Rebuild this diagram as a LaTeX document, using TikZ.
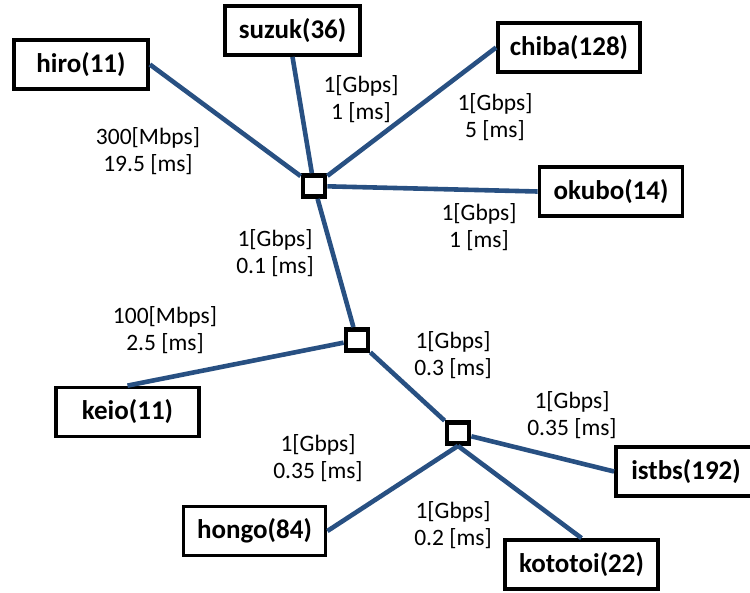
\documentclass[tikz,border=0pt]{standalone}
\usepackage{fontspec}
\setmainfont{Carlito}
\definecolor{linkblue}{RGB}{40,80,130}
\tikzset{
  host/.style={draw=black, line width=3.8pt, fill=white, inner sep=0pt,
    minimum height=49pt, font=\fontsize{27}{30}\selectfont\bfseries},
  switchbox/.style={draw=black, line width=4.8pt, fill=white, inner sep=0pt,
    minimum width=22pt, minimum height=21pt},
  link/.style={draw=linkblue, line width=4.6pt},
  linklabel/.style={align=center, inner sep=0pt,
    font=\fontsize{23.5}{27}\selectfont}
}
\begin{document}
\begin{tikzpicture}[x=1pt,y=-1pt]
\useasboundingbox (0,0) rectangle (750,592);

% end hosts
\node[host, minimum width=134pt] (hiro)    at (81,64.5)  {hiro(11)};
\node[host, minimum width=135pt] (suzuk)   at (292.5,30.5) {suzuk(36)};
\node[host, minimum width=142pt] (chiba)   at (569,47.5) {chiba(128)};
\node[host, minimum width=143pt] (okubo)   at (611,191.5) {okubo(14)};
\node[host, minimum width=143pt] (keio)    at (127.5,412) {keio(11)};
\node[host, minimum width=142pt] (hongo)   at (254.5,531) {hongo(84)};
\node[host, minimum width=140pt] (istbs)   at (686,471.5) {istbs(192)};
\node[host, minimum width=153pt] (kototoi) at (581.5,564.5) {kototoi(22)};

% switches
\node[switchbox] (s1) at (314,186) {};
\node[switchbox] (s2) at (357,340) {};
\node[switchbox] (s3) at (458,433) {};

% links
\draw[link] (hiro.east) -- (s1);
\draw[link] (suzuk.south) -- (s1);
\draw[link] (chiba.west) -- (s1);
\draw[link] (okubo.west) -- (s1);
\draw[link] (s1) -- (s2);
\draw[link] (keio.north) -- (s2);
\draw[link] (s2) -- (s3);
\draw[link] (s3) -- (istbs.west);
\draw[link] (s3.south) -- (hongo.east);
\draw[link] (s3.south) -- (kototoi.north);

% link labels
\node[linklabel] (l1)  at (148,151) {300[Mbps]\\19.5 [ms]};
\node[linklabel] (l2)  at (361,99)  {1[Gbps]\\1 [ms]};
\node[linklabel] (l3)  at (495,117) {1[Gbps]\\5 [ms]};
\node[linklabel] (l4)  at (479,227) {1[Gbps]\\1 [ms]};
\node[linklabel] (l5)  at (275,253) {1[Gbps]\\0.1 [ms]};
\node[linklabel] (l6)  at (165,330) {100[Mbps]\\2.5 [ms]};
\node[linklabel] (l7)  at (453,355) {1[Gbps]\\0.3 [ms]};
\node[linklabel] (l8)  at (572,415) {1[Gbps]\\0.35 [ms]};
\node[linklabel] (l9)  at (318,458) {1[Gbps]\\0.35 [ms]};
\node[linklabel] (l10) at (453,525) {1[Gbps]\\0.2 [ms]};
\end{tikzpicture}
\end{document}
